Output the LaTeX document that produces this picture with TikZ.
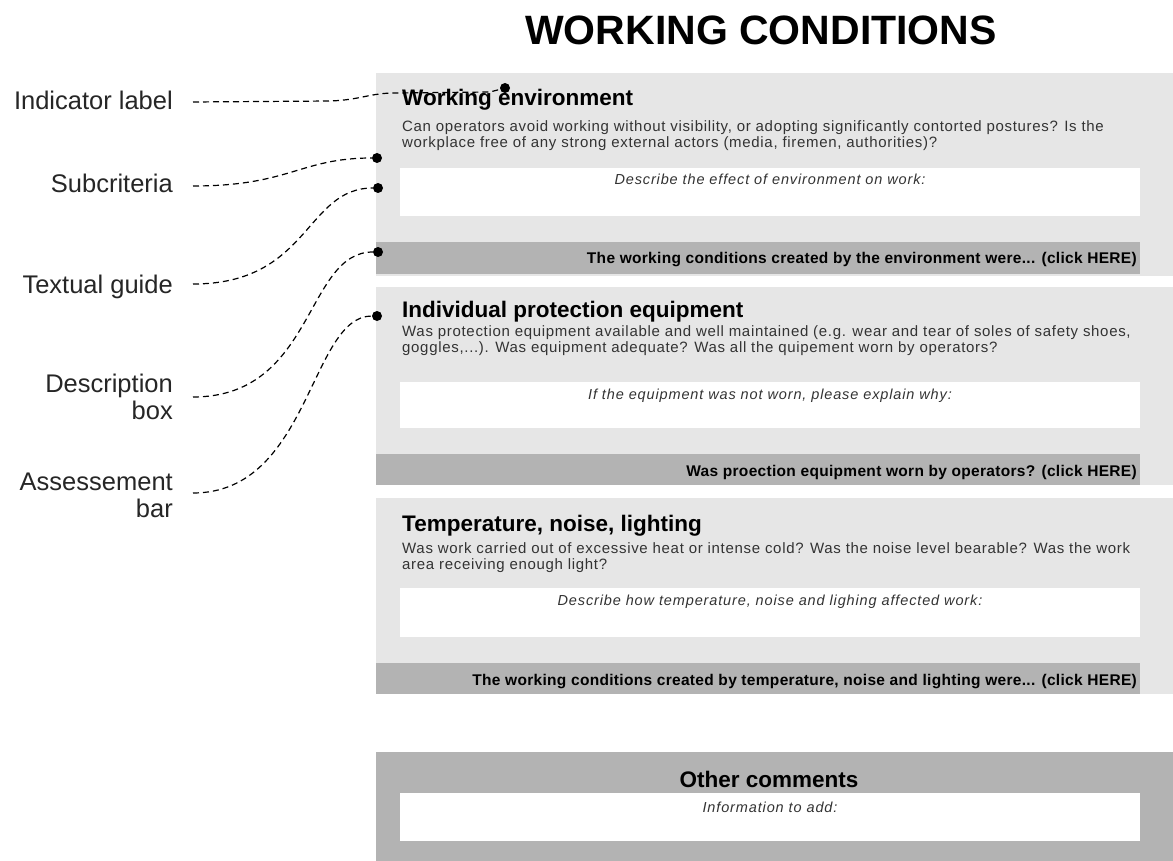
\documentclass[tikz,border=0pt]{standalone}
\usepackage{fontspec}
\setmainfont{Liberation Sans}
\definecolor{panelgray}{HTML}{E6E6E6}
\definecolor{bargray}{HTML}{B3B3B3}
\definecolor{qtext}{HTML}{333333}
\begin{document}
\begin{tikzpicture}[x=1pt,y=-1pt,
  box/.style={inner sep=0pt, outer sep=0pt, anchor=north west, draw=none},
  panel/.style={box, fill=panelgray},
  abar/.style={box, fill=bargray},
  wbox/.style={box, fill=white},
  hdr/.style={anchor=base west, inner sep=0pt, font=\fontsize{22.5}{26}\selectfont\bfseries},
  qline/.style={anchor=base west, inner sep=0pt, text=qtext, font=\fontsize{15}{18}\selectfont\addfontfeatures{LetterSpace=4.6}},
  guide/.style={anchor=base, inner sep=0pt, text=qtext, font=\fontsize{14.5}{18}\selectfont\itshape\addfontfeatures{LetterSpace=6}},
  bartext/.style={anchor=base east, inner sep=0pt, font=\fontsize{15.5}{18}\selectfont\bfseries\addfontfeatures{LetterSpace=2}},
  lbl/.style={anchor=base east, inner sep=0pt, text=black!85, font=\fontsize{25.5}{28}\selectfont},
  dot/.style={circle, fill=black, inner sep=0pt, minimum size=10pt},
  conn/.style={line width=1.2pt, dash pattern=on 6pt off 4pt}
]
\useasboundingbox (0,0) rectangle (1173,861);
\fill[white] (0,0) rectangle (1173,861);

% title
\node[anchor=base, inner sep=0pt, font=\fontsize{41}{46}\selectfont\bfseries] (title) at (761,45) {WORKING CONDITIONS};

% panel 1
\node[panel, minimum width=797pt, minimum height=203pt] (p1) at (376,73) {};
\node[wbox, minimum width=740pt, minimum height=48pt] (w1) at (400,168) {};
\node[abar, minimum width=764pt, minimum height=32pt] (b1) at (376,242) {};
\node[hdr] (h1) at (402,106) {Working environment};
\node[qline] (q1a) at (402,132) {Can operators avoid working without visibility, or adopting significantly contorted postures? Is the};
\node[qline] (q1b) at (402,148) {workplace free of any strong external actors (media, firemen, authorities)?};
\node[guide] (g1) at (770,185) {Describe the effect of environment on work:};
\node[bartext] (t1) at (1137,264) {The working conditions created by the environment were... (click HERE)};

% panel 2
\node[panel, minimum width=797pt, minimum height=198pt] (p2) at (376,287) {};
\node[wbox, minimum width=740pt, minimum height=46pt] (w2) at (400,382) {};
\node[abar, minimum width=764pt, minimum height=31pt] (b2) at (376,454) {};
\node[hdr] (h2) at (402,317) {Individual protection equipment};
\node[qline] (q2a) at (402,336) {Was protection equipment available and well maintained (e.g. wear and tear of soles of safety shoes,};
\node[qline] (q2b) at (402,352) {goggles,...). Was equipment adequate? Was all the quipement worn by operators?};
\node[guide] (g2) at (770,399) {If the equipment was not worn, please explain why:};
\node[bartext] (t2) at (1137,476) {Was proection equipment worn by operators? (click HERE)};

% panel 3
\node[panel, minimum width=797pt, minimum height=196pt] (p3) at (376,498) {};
\node[wbox, minimum width=740pt, minimum height=49pt] (w3) at (400,588) {};
\node[abar, minimum width=764pt, minimum height=31pt] (b3) at (376,663) {};
\node[hdr] (h3) at (402,531) {Temperature, noise, lighting};
\node[qline] (q3a) at (402,553) {Was work carried out of excessive heat or intense cold? Was the noise level bearable? Was the work};
\node[qline] (q3b) at (402,569) {area receiving enough light?};
\node[guide] (g3) at (770,605) {Describe how temperature, noise and lighing affected work:};
\node[bartext] (t3) at (1137,685) {The working conditions created by temperature, noise and lighting were... (click HERE)};

% other comments
\node[abar, minimum width=797pt, minimum height=109pt] (p4) at (376,752) {};
\node[wbox, minimum width=740pt, minimum height=48pt] (w4) at (400,793) {};
\node[anchor=base, inner sep=0pt, font=\fontsize{22.5}{26}\selectfont\bfseries] (h4) at (769,787) {Other comments};
\node[guide] (g4) at (770,812) {Information to add:};

% left labels
\node[lbl] (lI) at (173,110) {Indicator label};
\node[lbl] (lS) at (173,193) {Subcriteria};
\node[lbl] (lT) at (173,293) {Textual guide};
\node[lbl] (lD1) at (173,392) {Description};
\node[lbl] (lD2) at (173,419) {box};
\node[lbl] (lA1) at (173,490) {Assessement};
\node[lbl] (lA2) at (173,517) {bar};

% connector ends
\coordinate (sI) at (193,102);
\coordinate (sS) at (193,186);
\coordinate (sT) at (193,284);
\coordinate (sD) at (193,397);
\coordinate (sA) at (193,493);

\node[dot] (dI) at (505,88) {};
\node[dot] (dS) at (377,158) {};
\node[dot] (dT) at (378,188) {};
\node[dot] (dD) at (378,252) {};
\node[dot] (dA) at (377,316) {};

\draw[conn] (sI) -- (330,101) .. controls (360,100) and (370,93) .. (395,93) -- (490,92) -- (dI);
\draw[conn] (sS) .. controls (290,186) and (300,158) .. (dS);
\draw[conn] (sT) .. controls (310,284) and (305,188) .. (dT);
\draw[conn] (sD) .. controls (315,397) and (305,252) .. (dD);
\draw[conn] (sA) .. controls (310,493) and (310,316) .. (dA);
\end{tikzpicture}
\end{document}
